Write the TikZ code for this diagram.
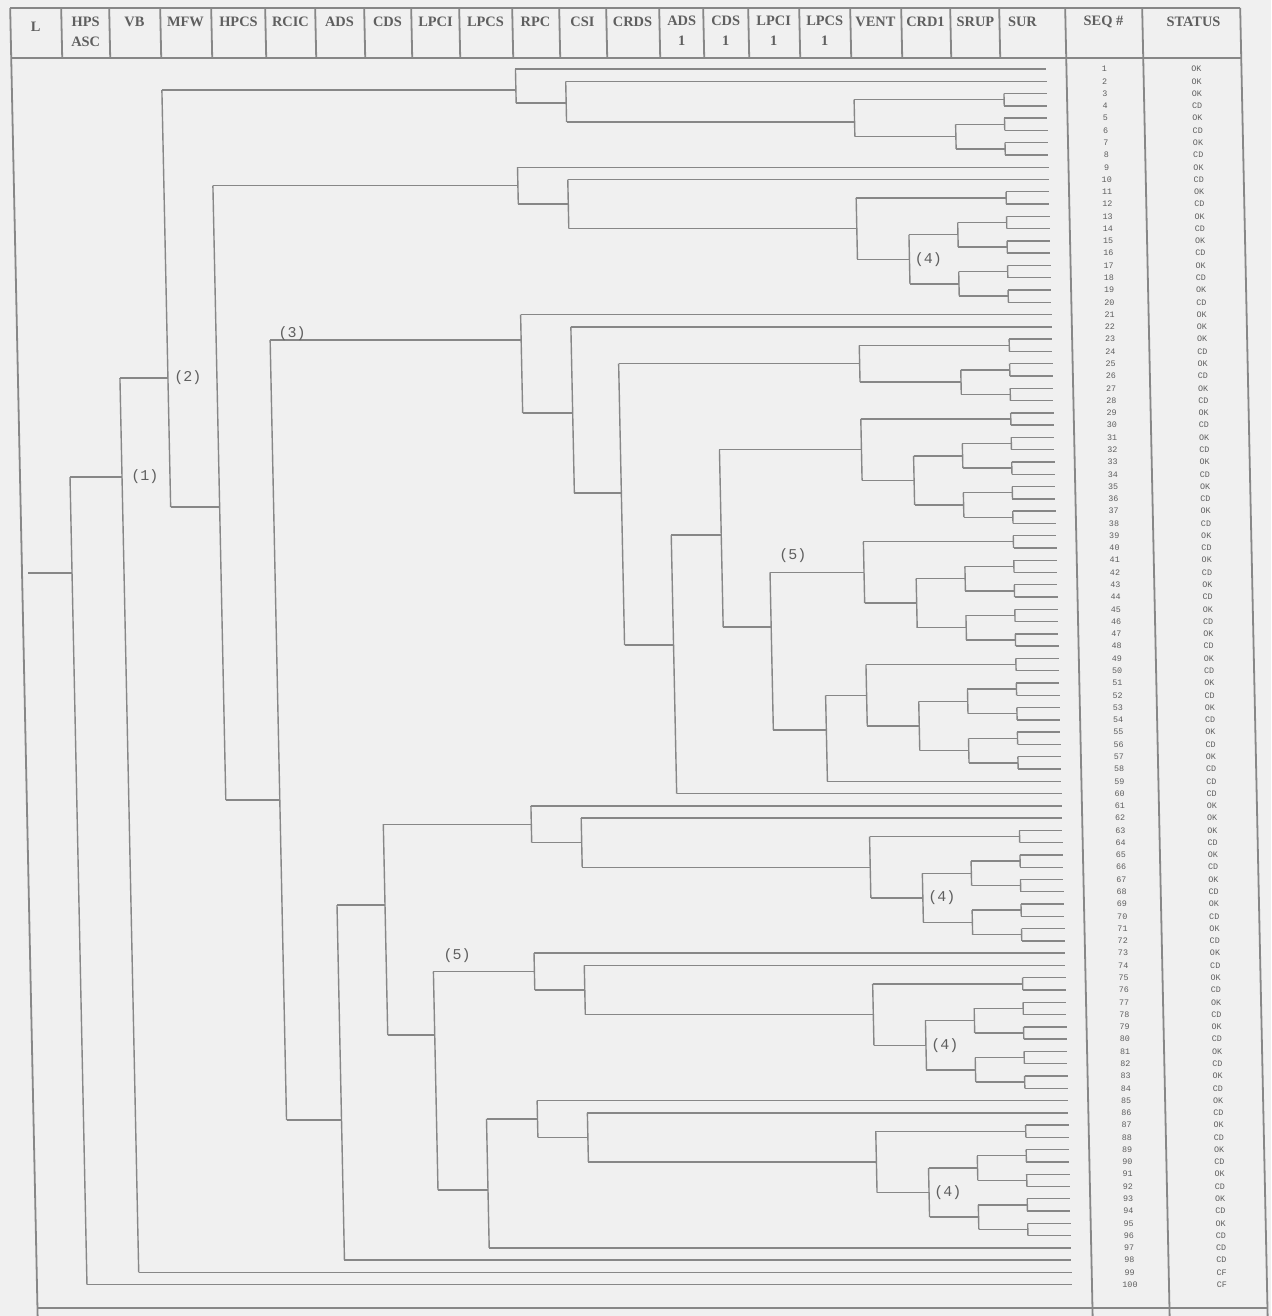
\documentclass[tikz,border=0pt]{standalone}
\usepackage{fontspec}
\setmonofont{Liberation Mono}
\setmainfont{Liberation Serif}
\definecolor{bgc}{RGB}{240,240,240}
\definecolor{lnc}{RGB}{135,135,135}
\definecolor{txc}{RGB}{95,95,95}
\tikzset{
  tl/.style={draw=lnc, line width=0.7pt},
  bd/.style={draw=lnc, line width=0.9pt},
  hdr/.style={font=\rmfamily\bfseries\fontsize{7.2}{10}\selectfont, text=txc, align=center, inner sep=0pt},
  seqt/.style={font=\ttfamily\fontsize{4.2}{4.5}\selectfont, text=txc, inner sep=0pt},
  brl/.style={font=\ttfamily\fontsize{7.5}{8}\selectfont, text=txc, inner sep=0.5pt}
}
% y position of sequence n (pixels, downward)
\newcommand\Yp[1]{(69+((#1)-1)*12.28)}
\def\XE{1045}
\def\XRPC{514}\def\XCSI{564}\def\XCRDS{611}\def\XADSa{660}\def\XCDSa{710}
\def\XLPCIa{758}\def\XLPCSa{811}\def\XVENT{852}\def\XCRD{904}\def\XSRUP{953}\def\XSUR{1002}
% parent x, x, y in, y up, y down
\newcommand\ETnode[5]{\draw[tl] (#1,{#3}) -- (#2,{#3});\draw[tl] (#2,{#4}) -- (#2,{#5});}
\newcommand\ETleaf[2]{\draw[tl] (#1,{\Yp{#2}}) -- (\XE,{\Yp{#2}});}
\newcommand\ETpair[2]{\ETnode{#1}{\XSUR}{\Yp{#2+0.5}}{\Yp{#2}}{\Yp{#2+1}}\ETleaf{\XSUR}{#2}\ETleaf{\XSUR}{#2+1}}
\newcommand\ETquad[2]{\ETnode{#1}{\XSRUP}{\Yp{#2+1.5}}{\Yp{#2+0.5}}{\Yp{#2+2.5}}\ETpair{\XSRUP}{#2}\ETpair{\XSRUP}{#2+2}}
\newcommand\ETocta[2]{\ETnode{#1}{\XCRD}{\Yp{#2+3.5}}{\Yp{#2+1.5}}{\Yp{#2+5.5}}\ETquad{\XCRD}{#2}\ETquad{\XCRD}{#2+4}}
\newcommand\ETjay[2]{\ETnode{#1}{\XVENT}{\Yp{#2+3}}{\Yp{#2+0.5}}{\Yp{#2+5.5}}\ETpair{\XVENT}{#2}\ETocta{\XVENT}{#2+2}}
\newcommand\ETeye[2]{\ETnode{#1}{\XCSI}{\Yp{#2+2}}{\Yp{#2}}{\Yp{#2+4}}\ETleaf{\XCSI}{#2}\ETjay{\XCSI}{#2+1}}
\newcommand\ETaitch[2]{\ETnode{#1}{\XRPC}{\Yp{#2+1.5}}{\Yp{#2}}{\Yp{#2+3}}\ETleaf{\XRPC}{#2}\ETeye{\XRPC}{#2+1}}
\newcommand\ETfour[2]{\node[brl, anchor=west] (#1) at (\XCRD+4,{\Yp{#2+3.5}}) {(4)};}
\begin{document}
\begin{tikzpicture}[x=0.5pt,y=-0.5pt]
\fill[bgc] (0,0) rectangle (1271,1316);
\useasboundingbox (0,0) rectangle (1271,1316);
\begin{scope}[xslant=-0.021]
% frame
\draw[bd] (10,8) -- (1240,8);
\draw[bd] (10,58) -- (1240,58);
\draw[bd] (10,1308) -- (1240,1308);
\foreach \xx in {10,1065,1142,1240} {\draw[bd] (\xx,8) -- (\xx,1316);}
\foreach \xx in {61,109,160,211,265,315,364,411,459,512,559,606,659,703,748,799,850,901,950,999} {\draw[bd] (\xx,8) -- (\xx,58);}
% header
\node[hdr] (hL) at (35,27) {L};
\node[hdr] (hHPS) at (85,32) {HPS\\ASC};
\node[hdr] (hVB) at (134,22) {VB};
\node[hdr] (hMFW) at (185,22) {MFW};
\node[hdr] (hHPCS) at (238,22) {HPCS};
\node[hdr] (hRCIC) at (290,22) {RCIC};
\node[hdr] (hADS) at (339,22) {ADS};
\node[hdr] (hCDS) at (387,22) {CDS};
\node[hdr] (hLPCI) at (435,22) {LPCI};
\node[hdr] (hLPCS) at (485,22) {LPCS};
\node[hdr] (hRPC) at (535,22) {RPC};
\node[hdr] (hCSI) at (582,22) {CSI};
\node[hdr] (hCRDS) at (632,22) {CRDS};
\node[hdr] (hADSa) at (681,31) {ADS\\1};
\node[hdr] (hCDSa) at (725,31) {CDS\\1};
\node[hdr] (hLPCIa) at (773,31) {LPCI\\1};
\node[hdr] (hLPCSa) at (824,31) {LPCS\\1};
\node[hdr] (hVENT) at (875,22) {VENT};
\node[hdr] (hCRD) at (925,22) {CRD1};
\node[hdr] (hSRUP) at (975,22) {SRUP};
\node[hdr] (hSUR) at (1022,22) {SUR};
\node[hdr] (hSEQ) at (1103,22) {SEQ \#};
\node[hdr] (hST) at (1193,22) {STATUS};
% top levels
\ETnode{16}{60}{573}{477}{\Yp{100}}\ETleaf{60}{100}
\ETnode{60}{112}{477}{378}{\Yp{99}}\ETleaf{112}{99}
\ETnode{112}{160}{378}{90}{507}
\ETnode{160}{209}{507}{\Yp{10.5}}{800}
\ETnode{209}{263}{800}{340}{1120}
% block 1 (1-8)
\ETnode{160}{\XRPC}{90}{\Yp{1}}{103}\ETleaf{\XRPC}{1}
\ETnode{\XRPC}{\XCSI}{103}{\Yp{2}}{122}\ETleaf{\XCSI}{2}
\ETnode{\XCSI}{\XVENT}{122}{\Yp{3.5}}{\Yp{6.5}}\ETpair{\XVENT}{3}\ETquad{\XVENT}{5}
% block 2 (9-20)
\ETaitch{209}{9}
\ETfour{f1}{13}
% block 3 (21-60)
\ETnode{263}{\XRPC}{340}{\Yp{21}}{413}\ETleaf{\XRPC}{21}
\ETnode{\XRPC}{\XCSI}{413}{\Yp{22}}{493}\ETleaf{\XCSI}{22}
\ETnode{\XCSI}{\XCRDS}{493}{\Yp{25}}{645}
\ETnode{\XCRDS}{\XVENT}{\Yp{25}}{\Yp{23.5}}{\Yp{26.5}}\ETpair{\XVENT}{23}\ETquad{\XVENT}{25}
\ETnode{\XCRDS}{\XADSa}{645}{535}{\Yp{60}}\ETleaf{\XADSa}{60}
\ETnode{\XADSa}{\XCDSa}{535}{\Yp{32}}{627}
\ETjay{\XCDSa}{29}
\ETnode{\XCDSa}{\XLPCIa}{627}{\Yp{42}}{730}
\ETjay{\XLPCIa}{39}
\ETnode{\XLPCIa}{\XLPCSa}{730}{\Yp{52}}{\Yp{59}}\ETleaf{\XLPCSa}{59}
\ETjay{\XLPCSa}{49}
% lower block (61-98)
\ETnode{263}{318}{1120}{905}{\Yp{98}}\ETleaf{318}{98}
\ETnode{318}{366}{905}{\Yp{62.5}}{1035}
\ETaitch{366}{61}
\ETfour{f2}{65}
\ETnode{366}{413}{1035}{\Yp{74.5}}{1190}
\ETaitch{413}{73}
\ETfour{f3}{77}
\ETnode{413}{463}{1190}{\Yp{86.5}}{\Yp{97}}\ETleaf{463}{97}
\ETaitch{463}{85}
\ETfour{f4}{89}
% branch labels
\node[brl, anchor=west] (b1) at (120,477) {(1)};
\node[brl, anchor=west] (b2) at (165,378) {(2)};
\node[brl, anchor=south west] (b3) at (270,342) {(3)};
\node[brl, anchor=south west] (b5a) at (766,564) {(5)};
\node[brl, anchor=south west] (b5b) at (422,964) {(5)};
% sequence numbers and status
\foreach \n/\s in {1/OK,2/OK,3/OK,4/CD,5/OK,6/CD,7/OK,8/CD,9/OK,10/CD,
 11/OK,12/CD,13/OK,14/CD,15/OK,16/CD,17/OK,18/CD,19/OK,20/CD,
 21/OK,22/OK,23/OK,24/CD,25/OK,26/CD,27/OK,28/CD,29/OK,30/CD,
 31/OK,32/CD,33/OK,34/CD,35/OK,36/CD,37/OK,38/CD,39/OK,40/CD,
 41/OK,42/CD,43/OK,44/CD,45/OK,46/CD,47/OK,48/CD,49/OK,50/CD,
 51/OK,52/CD,53/OK,54/CD,55/OK,56/CD,57/OK,58/CD,59/CD,60/CD,
 61/OK,62/OK,63/OK,64/CD,65/OK,66/CD,67/OK,68/CD,69/OK,70/CD,
 71/OK,72/CD,73/OK,74/CD,75/OK,76/CD,77/OK,78/CD,79/OK,80/CD,
 81/OK,82/CD,83/OK,84/CD,85/OK,86/CD,87/OK,88/CD,89/OK,90/CD,
 91/OK,92/CD,93/OK,94/CD,95/OK,96/CD,97/CD,98/CD,99/CF,100/CF}
{\node[seqt] (sq\n) at (1103,{\Yp{\n}}) {\n};
 \node[seqt] (st\n) at (1195,{\Yp{\n}}) {\s};}
\end{scope}
\end{tikzpicture}
\end{document}
